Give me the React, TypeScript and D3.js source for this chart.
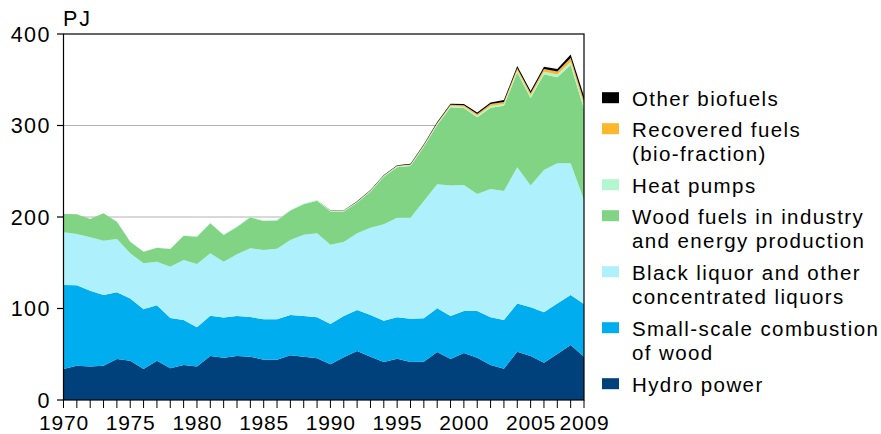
import React from 'react';
import * as d3 from 'd3';

const years = d3.range(1970, 2010);

// PJ per year, 1970–2009
const hydro = [34, 37.5, 36.5, 37.5, 44.8, 43, 34, 43, 34.6, 38.2, 36.5, 48.2, 46.2, 48, 47.2, 44, 44, 48.8, 47.4, 45.5, 39, 46.6, 53.6, 47.4, 41.5, 45, 41.5, 41.9, 52.5, 44.8, 51.4, 46.3, 38.2, 34.2, 52.8, 48, 40.8, 50.3, 60.1, 47.4];
const smallScale = [91.7, 87.8, 83, 77.3, 72.9, 68, 65.1, 60.5, 55, 49.2, 42.9, 44, 44.1, 43.8, 43.5, 44.2, 44.2, 44.1, 44.4, 44.9, 44, 45.2, 44.8, 45.5, 45.2, 45.4, 47.4, 47.4, 47.7, 47, 45.9, 51, 52.2, 53.2, 52.8, 53.3, 55, 55.3, 54.7, 57.5];
const blackLiquor = [57.5, 56.1, 58.3, 59.3, 58.3, 49.3, 50.3, 47.5, 56.1, 65.6, 69.1, 68.1, 60.9, 67.6, 75.1, 75.8, 77.2, 82.1, 88.9, 91.8, 86.8, 80.9, 83.8, 95.4, 105.3, 108.9, 110.4, 128.2, 135.5, 142.5, 137.7, 127.8, 140.2, 141, 148.7, 133, 155.6, 153.1, 143.9, 113.7];
const woodFuels = [20.1, 21.5, 20, 29.9, 18.9, 12.7, 12.7, 15.5, 19.3, 26.6, 30, 32.8, 29.1, 29.6, 33.8, 31.5, 30.9, 32, 33.3, 35.6, 36.2, 33.3, 33.4, 39.4, 52, 55, 56.4, 59.3, 64.8, 85.7, 84, 83.9, 88.9, 93.1, 103.7, 95.7, 104.6, 94, 107.3, 99.4];
const heatPumps = [0.1, 0.1, 0.1, 0.1, 0.1, 0.2, 0.2, 0.2, 0.2, 0.3, 0.4, 0.4, 0.5, 0.5, 0.6, 0.6, 0.7, 0.7, 0.8, 0.8, 0.8, 0.9, 0.9, 1, 1, 1.1, 1.1, 1.2, 1.3, 1.4, 1.5, 1.7, 1.9, 2, 2.2, 2.4, 2.7, 3, 3.6, 4.5];
const recovered = [0, 0, 0, 0, 0, 0, 0, 0, 0, 0, 0, 0, 0, 0, 0, 0, 0, 0, 0, 0, 0.2, 0.2, 0.3, 0.3, 0.4, 0.5, 0.6, 0.8, 1, 1.3, 1.6, 1.8, 2, 2.3, 2.5, 2.8, 3, 3.4, 4.2, 4.5];
const otherBio = [0, 0, 0, 0, 0, 0, 0, 0, 0, 0, 0, 0, 0, 0, 0, 0, 0, 0, 0, 0, 0.3, 0.3, 0.4, 0.4, 0.5, 0.6, 0.7, 0.8, 1, 1.2, 1.5, 1.6, 1.8, 2, 2.2, 2.4, 2.5, 2.6, 3.8, 5];

const series = [
  { key: 'hydro', values: hydro, color: '#00407b', label: ['Hydro power'] },
  { key: 'small', values: smallScale, color: '#00aeef', label: ['Small-scale combustion', 'of wood'] },
  { key: 'black', values: blackLiquor, color: '#aef1fd', label: ['Black liquor and other', 'concentrated liquors'] },
  { key: 'wood', values: woodFuels, color: '#80d484', label: ['Wood fuels in industry', 'and energy production'] },
  { key: 'heat', values: heatPumps, color: '#b3f7d0', label: ['Heat pumps'] },
  { key: 'recovered', values: recovered, color: '#fdb72d', label: ['Recovered fuels', '(bio-fraction)'] },
  { key: 'other', values: otherBio, color: '#000000', label: ['Other biofuels'] },
];

const yTicks = [0, 100, 200, 300, 400];
const xLabelYears = [1970, 1975, 1980, 1985, 1990, 1995, 2000, 2005, 2009];

const W = 881;
const H = 434;
const FONT = "'Liberation Sans', Arial, sans-serif";

export default function App() {
  const x = d3.scaleLinear().domain([1970, 2009]).range([63.5, 584]);
  const y = d3.scaleLinear().domain([0, 400]).range([400, 34]);

  const rows = years.map((yr, i) => {
    const r: Record<string, number> = { year: yr };
    series.forEach(s => { r[s.key] = s.values[i]; });
    return r;
  });
  const stacked = d3.stack<Record<string, number>>().keys(series.map(s => s.key))(rows);

  const area = d3.area<d3.SeriesPoint<Record<string, number>>>()
    .x(d => x(d.data.year))
    .y0(d => y(d[0]))
    .y1(d => y(d[1]));

  // legend from top: reversed stack order
  const legendItems = [...series].reverse();
  let ly = 97.7;
  const legendPos = legendItems.map(s => {
    const pos = ly;
    ly += 31 + 25 * (s.label.length - 1);
    return pos;
  });

  return (
    <svg width={W} height={H} style={{ position: 'absolute', left: 0, top: 0, background: '#fff' }}
      fontFamily={FONT}>
      {/* grid */}
      {yTicks.filter(t => t > 0 && t < 400).map(t => (
        <line key={t} x1={x(1970)} x2={x(2009)} y1={y(t)} y2={y(t)}
          stroke="#666" strokeWidth={1} strokeDasharray="1,1" />
      ))}

      {stacked.map((layer, i) => (
        <path key={layer.key} d={area(layer) || ''} fill={series[i].color} />
      ))}

      {/* frame */}
      <rect x={x(1970)} y={y(400)} width={x(2009) - x(1970)} height={y(0) - y(400)}
        fill="none" stroke="#000" strokeWidth={1.2} />

      {/* y axis */}
      {yTicks.map(t => (
        <g key={t}>
          <line x1={57} x2={x(1970)} y1={y(t)} y2={y(t)} stroke="#000" strokeWidth={1.2} />
          <text x={51} y={y(t)} dy="0.36em" textAnchor="end" fontSize={21.5} letterSpacing={1.5}>{t}</text>
        </g>
      ))}
      <text x={63} y={26} fontSize={21.5} letterSpacing={2}>PJ</text>

      {/* x axis */}
      {years.map(yr => (
        <line key={yr} x1={x(yr)} x2={x(yr)} y1={400} y2={408} stroke="#000" strokeWidth={1} />
      ))}
      {xLabelYears.map(yr => (
        <text key={yr} x={x(yr) + 0.4} y={429.5} textAnchor="middle" fontSize={21} letterSpacing={0.8}>{yr}</text>
      ))}

      {/* legend */}
      {legendItems.map((s, i) => (
        <g key={s.key}>
          <rect x={602} y={legendPos[i] - 5.5} width={17} height={11} fill={s.color} />
          {s.label.map((line, j) => (
            <text key={j} x={632} y={legendPos[i] + 8 + j * 24.5} fontSize={20.5} letterSpacing={1.4}>{line}</text>
          ))}
        </g>
      ))}
    </svg>
  );
}
